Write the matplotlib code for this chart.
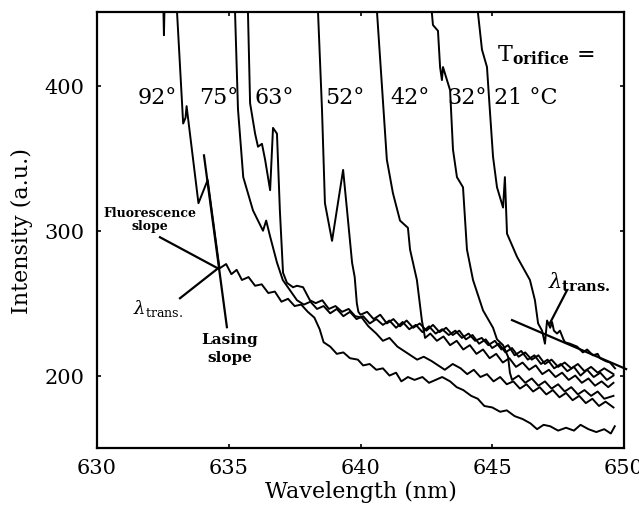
import matplotlib
matplotlib.use("Agg")
import matplotlib.pyplot as plt

plt.rcParams['font.family'] = ['DejaVu Serif']
plt.rcParams['mathtext.fontset'] = 'dejavuserif'

# ---------------- data (wavelength nm, intensity a.u.) ----------------
w92 = [632.50, 632.54, 632.58, 633.00, 633.04, 633.27, 633.36, 633.40, 633.85, 634.20,
       634.59, 634.65, 634.90, 635.10, 635.30, 635.50, 635.75, 636.00, 636.25, 636.50,
       636.75, 637.00, 637.25, 637.50, 637.75, 638.00, 638.25, 638.45, 638.60, 638.85,
       639.10, 639.35, 639.60, 639.90, 640.10, 640.35, 640.60, 640.85, 641.10, 641.35,
       641.55, 641.80, 642.05, 642.35, 642.60, 642.85, 643.10, 643.40, 643.65, 643.90,
       644.20, 644.45, 644.70, 645.00, 645.30, 645.55, 645.85, 646.15, 646.45, 646.70,
       646.95, 647.20, 647.50, 647.80, 648.10, 648.35, 648.65, 648.95, 649.25, 649.50,
       649.65]
i92 = [470, 435, 470, 470, 450, 374, 378, 386, 319, 335,
       282, 274, 277, 270, 273, 266, 268, 262, 263, 257,
       258, 251, 253, 248, 249, 244, 240, 232, 223, 220,
       215, 216, 212, 211, 207, 208, 204, 205, 200, 202,
       196, 199, 197, 199, 195, 197, 199, 196, 192, 190,
       186, 184, 179, 178, 175, 176, 172, 170, 167, 163,
       166, 165, 162, 164, 162, 166, 163, 161, 163, 160,
       165]

w75 = [635.20, 635.24, 635.35, 635.55, 635.92, 636.30, 636.42, 636.57, 636.83, 637.05,
       637.32, 637.59, 637.85, 638.10, 638.35, 638.60, 638.85, 639.10, 639.35, 639.60,
       639.85, 640.10, 640.35, 640.60, 640.85, 641.10, 641.35, 641.60, 641.85, 642.10,
       642.35, 642.60, 642.85, 643.10, 643.35, 643.60, 643.85, 644.10, 644.35, 644.60,
       644.85, 645.10, 645.35, 645.60, 645.85, 646.10, 646.35, 646.60, 646.85, 647.10,
       647.35, 647.60, 647.85, 648.10, 648.35, 648.60, 648.85, 649.10, 649.35, 649.60]
i75 = [470, 450, 384, 337, 314, 300, 307, 296, 278, 266,
       259, 252, 249, 251, 246, 248, 243, 246, 241, 244,
       239, 241, 236, 239, 235, 238, 233, 237, 232, 235,
       230, 234, 229, 232, 228, 231, 226, 229, 224, 226,
       221, 224, 218, 221, 214, 217, 211, 214, 208, 211,
       205, 208, 203, 206, 200, 204, 199, 202, 197, 200]

w63 = [635.70, 635.73, 635.81, 636.00, 636.11, 636.26, 636.38, 636.57, 636.68, 636.83,
       636.94, 637.06, 637.21, 637.44, 637.59, 637.82, 638.08, 638.30, 638.55, 638.80,
       639.05, 639.30, 639.55, 639.80, 640.05, 640.30, 640.60, 640.85, 641.10, 641.40,
       641.65, 641.90, 642.15, 642.40, 642.70, 642.95, 643.20, 643.50, 643.80, 644.05,
       644.30, 644.55, 644.80, 645.05, 645.30, 645.55, 645.80, 646.05, 646.30, 646.55,
       646.80, 647.05, 647.30, 647.55, 647.80, 648.05, 648.30, 648.55, 648.80, 649.05,
       649.30, 649.60]
i63 = [470, 450, 388, 367, 358, 360, 349, 328, 371, 367,
       314, 271, 264, 261, 262, 261, 252, 250, 252, 246,
       248, 244, 246, 241, 240, 234, 229, 224, 226, 220,
       217, 214, 211, 213, 210, 207, 204, 208, 205, 201,
       204, 199, 201, 196, 199, 194, 196, 191, 194, 189,
       192, 187, 190, 185, 188, 183, 186, 181, 184, 179,
       182, 178]

w52 = [638.35, 638.39, 638.54, 638.65, 638.92, 639.34, 639.49, 639.68, 639.78, 639.86,
       639.92, 640.00, 640.25, 640.50, 640.75, 641.00, 641.25, 641.50, 641.75, 642.00,
       642.25, 642.50, 642.75, 643.00, 643.25, 643.50, 643.75, 644.00, 644.25, 644.50,
       644.75, 645.00, 645.25, 645.50, 645.75, 646.00, 646.25, 646.50, 646.75, 647.00,
       647.25, 647.50, 647.75, 648.00, 648.25, 648.50, 648.75, 649.00, 649.25, 649.60]
i52 = [470, 450, 383, 319, 293, 342, 314, 278, 268, 250,
       244, 242, 244, 239, 242, 236, 239, 234, 238, 233,
       236, 231, 235, 230, 233, 228, 231, 225, 228, 222,
       225, 219, 222, 216, 219, 213, 216, 211, 214, 208,
       211, 206, 209, 205, 208, 203, 206, 202, 205, 201]

w42 = [640.60, 640.63, 640.85, 641.00, 641.23, 641.50, 641.80, 641.88, 642.14, 642.33,
       642.45, 642.65, 642.90, 643.15, 643.40, 643.65, 643.90, 644.15, 644.40, 644.65,
       644.90, 645.15, 645.40, 645.65, 645.90, 646.15, 646.40, 646.65, 646.90, 647.15,
       647.40, 647.65, 647.90, 648.15, 648.40, 648.65, 648.90, 649.15, 649.40, 649.60]
i42 = [470, 450, 390, 349, 326, 307, 302, 287, 266, 238,
       226, 229, 224, 227, 221, 224, 218, 221, 215, 218,
       212, 215, 209, 212, 206, 209, 204, 207, 201, 204,
       199, 202, 197, 200, 195, 198, 193, 196, 192, 195]

w32 = [642.68, 642.71, 642.75, 642.94, 643.02, 643.09, 643.13, 643.40, 643.51, 643.66,
       643.89, 644.04, 644.27, 644.65, 645.03, 645.18, 645.41, 645.60, 645.67, 645.75,
       646.00, 646.25, 646.50, 646.75, 647.00, 647.25, 647.50, 647.75, 648.00, 648.25,
       648.50, 648.75, 649.00, 649.25, 649.60]
i32 = [470, 450, 442, 438, 413, 404, 413, 397, 356, 337,
       330, 287, 266, 245, 233, 225, 221, 213, 202, 197,
       200, 195, 198, 193, 196, 191, 194, 189, 192, 187,
       190, 186, 189, 184, 186]

w21 = [644.43, 644.46, 644.61, 644.80, 644.91, 645.03, 645.18, 645.41, 645.48, 645.56,
       645.94, 646.43, 646.62, 646.74, 646.89, 647.00, 647.08, 647.20, 647.27, 647.34,
       647.46, 647.57, 647.70, 647.76, 647.95, 648.22, 648.44, 648.60, 648.82, 649.00,
       649.09, 649.30, 649.47, 649.66]
i21 = [470, 450, 425, 413, 383, 351, 330, 316, 337, 298,
       282, 266, 252, 236, 231, 222, 238, 233, 237, 231,
       229, 231, 225, 223, 222, 220, 216, 218, 214, 215,
       212, 210, 209, 205]

series = [(w92, i92), (w75, i75), (w63, i63), (w52, i52),
          (w42, i42), (w32, i32), (w21, i21)]

temp_labels = ["92°", "75°", "63°", "52°", "42°", "32°", "21 °C"]
temp_label_x = [632.3, 634.63, 636.72, 639.41, 641.88, 644.04, 646.28]
temp_label_y = 392

x_ticks = [630, 635, 640, 645, 650]
y_ticks = [200, 300, 400]

# annotation line segments (data coords)
fluor_left = ([632.39, 634.59], [295.5, 274.0])
fluor_right = ([645.75, 650.08], [238.3, 204.5])
lasing_line = ([634.06, 634.93], [352.0, 233.4])
trans_left = ([633.15, 634.59], [253.4, 274.0])
trans_right = ([647.84, 647.19], [259.0, 236.2])

# ---------------- figure ----------------
fig = plt.figure(figsize=(6.39, 5.10), dpi=100)
ax = fig.add_axes([97 / 639, 1 - 449 / 510, 527 / 639, 436 / 510])

for w, i in series:
    ax.plot(w, i, color='black', lw=1.4)

for seg in (fluor_left, fluor_right, lasing_line, trans_left, trans_right):
    ax.plot(seg[0], seg[1], color='black', lw=1.6, clip_on=False)

ax.set_xlim(630, 650)
ax.set_ylim(150, 451)
ax.set_xticks(x_ticks)
ax.set_yticks(y_ticks)
ax.tick_params(direction='in', length=3, width=1.2, top=True, right=True,
               labelsize=15)
ax.tick_params(axis='x', pad=7)
ax.tick_params(axis='y', pad=9)
for s in ax.spines.values():
    s.set_linewidth(1.6)

ax.set_xlabel("Wavelength (nm)", fontsize=16, labelpad=2)
ax.set_ylabel("Intensity (a.u.)", fontsize=16, labelpad=8)

for lab, x in zip(temp_labels, temp_label_x):
    ax.text(x, temp_label_y, lab, fontsize=16, ha='center', va='center')

ax.text(645.18, 421.7, r'T$_{\mathbf{orifice}}$ =', fontsize=16,
        ha='left', va='center')

ax.text(632.0, 308, "Fluorescence\nslope", fontsize=9, fontweight='bold',
        ha='center', va='center', linespacing=1.0)
ax.text(635.05, 219, "Lasing\nslope", fontsize=11, fontweight='bold',
        ha='center', va='center', linespacing=1.3)
ax.text(631.37, 247, r'$\lambda_{\mathrm{trans.}}$', fontsize=13,
        ha='left', va='center')
ax.text(647.12, 265, r'$\lambda_{\mathbf{trans.}}$', fontsize=15,
        ha='left', va='center')

fig.savefig("out.png", dpi=100)
